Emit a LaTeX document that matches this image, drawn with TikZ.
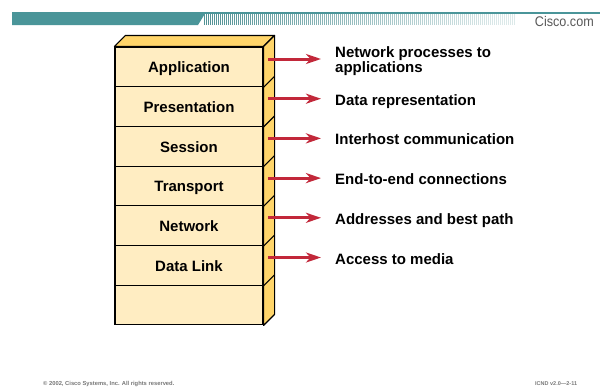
\documentclass[tikz,border=0pt]{standalone}
\usepackage{fontspec}
\setmainfont{Liberation Sans}
\usetikzlibrary{arrows.meta}
\definecolor{tealbar}{RGB}{74,149,153}
\definecolor{frontc}{RGB}{255,237,194}
\definecolor{sidec}{RGB}{255,213,106}
\definecolor{arrowred}{RGB}{194,40,58}
\definecolor{footgray}{RGB}{120,120,120}
\begin{document}
\begin{tikzpicture}[x=1pt,y=-1pt,
  layer/.style={draw=black, line width=1.1pt, fill=frontc, minimum width=148pt, minimum height=39.7pt,
    inner sep=0pt, text height=11.5pt, text depth=0pt, font=\fontsize{15}{15}\selectfont\bfseries},
  desc/.style={inner sep=0pt, anchor=base west, align=left, font=\fontsize{15}{15}\selectfont\bfseries},
  redarrow/.style={draw=arrowred, line width=3pt, -{Stealth[length=15pt,width=10pt,inset=4.5pt]}},
  edgeline/.style={draw=black, line width=1.1pt},
  foot/.style={inner sep=0pt, anchor=base west, text=footgray, font=\fontsize{5.8}{5.8}\selectfont\bfseries},
  ]
\path[use as bounding box, fill=white] (0,0) rectangle (603,388);

% header bar
\fill[tealbar] (12,12) rectangle (600,13.5);
\fill[tealbar] (12,12) -- (206,12) -- (198,25) -- (12,25) -- cycle;
\foreach \i in {0,...,155}{
  \pgfmathsetmacro{\xx}{204+2*\i}
  \pgfmathsetmacro{\op}{max(0.2,1-\i/185)}
  \draw[tealbar!85!gray, line width=1pt, opacity=\op] (\xx,14) -- (\xx,25);
}
\node[inner sep=0pt, anchor=base east, text=black!65, font=\fontsize{14}{14}\selectfont] (cisco) at (594,26) {\scalebox{0.9}[1]{Cisco.com}};

% layer stack (front rows)
\node[layer] (app)   at (189,66.85)  {Application};
\node[layer] (pres)  at (189,106.55) {Presentation};
\node[layer] (sess)  at (189,146.25) {Session};
\node[layer] (trans) at (189,185.95) {Transport};
\node[layer] (net)   at (189,225.65) {Network};
\node[layer] (dl)    at (189,265.35) {Data Link};
\node[layer] (phys)  at (189,305.05) {};

% top face
\filldraw[fill=sidec, edgeline, line join=round] (app.north west) -- ++(11,-11) -- ([shift={(11,-11)}]app.north east) -- (app.north east) -- cycle;
% side face
\filldraw[fill=sidec, edgeline, line join=round] (app.north east) -- ++(11,-11) -- ([shift={(11,-11)}]phys.south east) -- (phys.south east) -- cycle;
\foreach \r in {app,pres,sess,trans,net,dl}{
  \draw[edgeline] (\r.south east) -- ++(11,-11);
}

% arrows
\coordinate (s1) at (268,59);    \coordinate (e1) at (321,59);
\coordinate (s2) at (268,98.7);  \coordinate (e2) at (321,98.7);
\coordinate (s3) at (268,138.4); \coordinate (e3) at (321,138.4);
\coordinate (s4) at (268,178.1); \coordinate (e4) at (321,178.1);
\coordinate (s5) at (268,217.8); \coordinate (e5) at (321,217.8);
\coordinate (s6) at (268,257.5); \coordinate (e6) at (321,257.5);
\foreach \k in {1,...,6}{ \draw[redarrow] (s\k) -- (e\k); }

% descriptions
\node[desc] (d1) at (335,72)    {Network processes to\\applications};
\node[desc] (d2) at (335,105.2) {Data representation};
\node[desc] (d3) at (335,144.9) {Interhost communication};
\node[desc] (d4) at (335,184.6) {End-to-end connections};
\node[desc] (d5) at (335,224.8) {Addresses and best path};
\node[desc] (d6) at (335,264)   {Access to media};

% footer
\node[foot] (copy) at (43,385) {\textcopyright{} 2002, Cisco Systems, Inc. All rights reserved.};
\node[foot, font=\fontsize{5.5}{5.5}\selectfont\bfseries] (icnd) at (535,385) {ICND v2.0—2-11};
\end{tikzpicture}
\end{document}
